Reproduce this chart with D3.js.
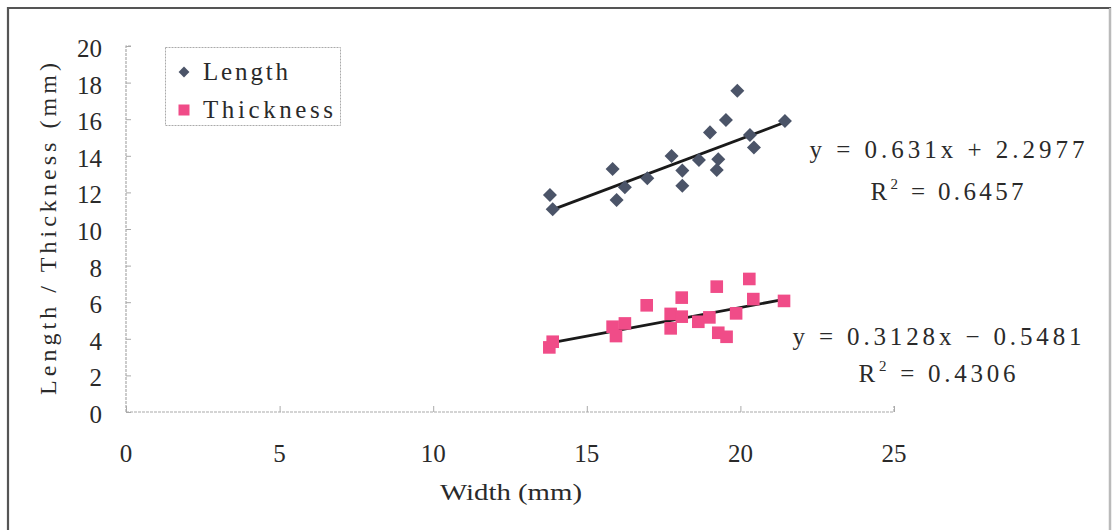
<!DOCTYPE html>
<html><head><meta charset="utf-8">
<script src="https://cdn.jsdelivr.net/npm/d3@7"></script>
<style>
html,body{margin:0;padding:0;background:#fff;}
svg{display:block;}
text{font-family:"Liberation Serif","DejaVu Serif",serif;fill:#2a2a2a;}
</style></head>
<body>
<script>
// ---- data ----
const lengthX = [13.80,13.89,15.84,15.97,16.24,16.97,17.76,18.11,18.11,18.65,19.01,19.28,19.23,19.53,19.90,20.31,20.44,21.45];
const lengthY = [11.86,11.08,13.28,11.58,12.28,12.77,13.99,13.19,12.37,13.77,15.28,13.81,13.22,15.96,17.56,15.14,14.46,15.90];
const thickX = [13.78,13.89,15.84,15.95,16.24,16.95,17.73,17.73,18.09,18.09,18.63,18.99,19.23,19.28,19.55,19.86,20.29,20.42,21.42];
const thickY = [3.53,3.84,4.66,4.15,4.84,5.83,5.36,4.57,6.25,5.21,4.93,5.17,6.85,4.33,4.11,5.39,7.27,6.17,6.07];
const seriesNames = ["Length","Thickness"];
const fitSlope = [0.631,0.3128];
const fitIntercept = [2.2977,-0.5481];
const fitLabels = ["y = 0.631x + 2.2977","y = 0.3128x \u2212 0.5481"];
const r2Values = ["0.6457","0.4306"];
const xTicks = [0,5,10,15,20,25];
const yTicks = [0,2,4,6,8,10,12,14,16,18,20];

const W=1112,H=530;
const svg=d3.select("body").append("svg").attr("width",W).attr("height",H)
  .attr("font-family","'Liberation Serif','DejaVu Serif',serif");
svg.append("rect").attr("width",W).attr("height",H).attr("fill","#fff");
// outer frame
svg.append("path").attr("d",`M8,${H+5} L8,8 L1110,8 L1110,${H+5}`).attr("fill","none")
  .attr("stroke","#555").attr("stroke-width",2.2);
svg.append("line").attr("x1",1110).attr("x2",1110).attr("y1",8).attr("y2",H).attr("stroke","#ddd").attr("stroke-width",1.5);

const x=d3.scaleLinear().domain([0,25]).range([126,894]);
const y=d3.scaleLinear().domain([0,20]).range([412,46]);

// axes
const gx=svg.append("g").attr("transform","translate(0,412)")
  .call(d3.axisTop(x).tickValues(xTicks).tickSize(6).tickFormat(""));
const gy=svg.append("g").attr("transform","translate(126,0)")
  .call(d3.axisRight(y).tickValues(yTicks).tickSize(5).tickFormat(""));
[gx,gy].forEach(g=>{
  g.select(".domain").attr("stroke","#aaa").attr("stroke-width",1.2).attr("stroke-dasharray","3,1");
  g.selectAll(".tick line").attr("stroke","#aaa").attr("stroke-width",1);
});
gx.select(".domain").attr("d","M126,0H894V-6");
gy.select(".domain").attr("d","M5,46H0V412");

// tick labels
svg.append("g").selectAll("text").data(xTicks).join("text")
  .attr("x",d=>x(d)).attr("y",462).attr("text-anchor","middle")
  .attr("font-size",25).text(d=>d);
svg.append("g").selectAll("text").data(yTicks).join("text")
  .attr("x",102).attr("y",d=>y(d)+11).attr("text-anchor","end")
  .attr("font-size",25).text(d=>d);

// axis titles
svg.append("text").attr("x",511).attr("y",500).attr("text-anchor","middle")
  .attr("font-size",24).attr("textLength",142).attr("lengthAdjust","spacingAndGlyphs").text("Width (mm)");
svg.append("text").attr("transform","translate(56,229) rotate(-90)").attr("text-anchor","middle")
  .attr("font-size",24).attr("textLength",332).attr("lengthAdjust","spacing").text("Length / Thickness (mm)");

// trend lines
const xsets=[lengthX,thickX];
xsets.forEach((xs,i)=>{
  const x0=d3.min(xs),x1=d3.max(xs);
  svg.append("line").attr("x1",x(x0)).attr("x2",x(x1))
    .attr("y1",y(fitSlope[i]*x0+fitIntercept[i])).attr("y2",y(fitSlope[i]*x1+fitIntercept[i]))
    .attr("stroke","#1a1a1a").attr("stroke-width",2.8);
});

const diamond=d3.symbol().type(d3.symbolDiamond2).size(125);
const lenColor="#4b5468", thColor="#f04c88";
// length points
svg.append("g").selectAll("path").data(lengthX.map((v,i)=>[v,lengthY[i]])).join("path")
  .attr("d",diamond).attr("transform",d=>`translate(${x(d[0])},${y(d[1])})`).attr("fill",lenColor);
// thickness points
svg.append("g").selectAll("rect").data(thickX.map((v,i)=>[v,thickY[i]])).join("rect")
  .attr("x",d=>x(d[0])-6.3).attr("y",d=>y(d[1])-6.3).attr("width",12.6).attr("height",12.6).attr("fill",thColor);

// equations
const eqPos=[{x:947,y1:158,w1:275,y2:200,w2:153},{x:937,y1:345,w1:289,y2:382,w2:157}];
eqPos.forEach((p,i)=>{
  svg.append("text").attr("x",p.x).attr("y",p.y1).attr("text-anchor","middle")
    .attr("font-size",25).attr("textLength",p.w1).attr("lengthAdjust","spacing").text(fitLabels[i]);
  const t=svg.append("text").attr("x",p.x-(p.w2/2)).attr("y",p.y2).attr("font-size",25);
  t.append("tspan").text("R");
  t.append("tspan").attr("dy",-11).attr("font-size",15).text("2");
  t.append("tspan").attr("dy",11).attr("font-size",25).text(" = 0.").attr("xml:space","preserve");
  t.append("tspan").text(r2Values[i].slice(2));
  t.attr("textLength",p.w2).attr("lengthAdjust","spacing");
});

// legend
svg.append("rect").attr("x",165.5).attr("y",47.5).attr("width",175).attr("height",78)
  .attr("fill","#fff").attr("stroke","#aaa").attr("stroke-width",1).attr("stroke-dasharray","2,1");
const lg=[{name:seriesNames[0],y:72},{name:seriesNames[1],y:110}];
svg.append("path").attr("d",d3.symbol().type(d3.symbolDiamond2).size(75)).attr("transform",`translate(184,${lg[0].y})`).attr("fill",lenColor);
svg.append("rect").attr("x",178.5).attr("y",lg[1].y-5.5).attr("width",11).attr("height",11).attr("fill",thColor);
lg.forEach((d,i)=>{
  svg.append("text").attr("x",203).attr("y",d.y+8).attr("font-size",25)
    .attr("textLength",i==0?85:130).attr("lengthAdjust","spacing").text(d.name);
});
</script>
</body></html>
